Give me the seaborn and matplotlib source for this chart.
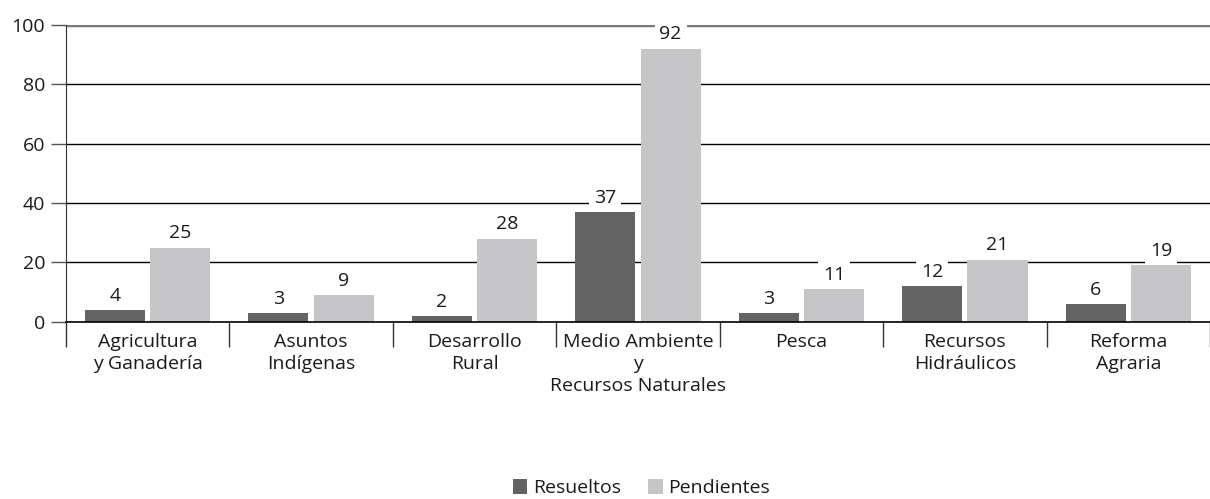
import pandas as pd
import matplotlib
matplotlib.use("Agg")
import matplotlib.pyplot as plt
import seaborn as sns

# --- data ---
categorias = ["Agricultura\ny Ganadería", "Asuntos\nIndígenas", "Desarrollo\nRural",
              "Medio Ambiente\ny\nRecursos Naturales", "Pesca", "Recursos\nHidráulicos",
              "Reforma\nAgraria"]
resueltos = [4, 3, 2, 37, 3, 12, 6]
pendientes = [25, 9, 28, 92, 11, 21, 19]
series = ["Resueltos", "Pendientes"]

df = pd.DataFrame({
    "categoria": categorias * 2,
    "estado": [series[0]] * len(categorias) + [series[1]] * len(categorias),
    "valor": resueltos + pendientes,
})

sns.set_style("white")
plt.rcParams["font.family"] = ["Open Sans", "DejaVu Sans"]
plt.rcParams["text.color"] = "#1a1a1a"
fs = 14

fig = plt.figure(figsize=(12.1, 4.99), dpi=100)
ax = fig.add_axes([0.0545, 0.355, 0.9455, 0.595])

# grid lines behind the bars
for v in [20, 40, 60, 80]:
    ax.axhline(v, color="black", lw=1, zorder=0)
ax.axhline(100, color="#7a7a7a", lw=2.5, zorder=0)

sns.barplot(data=df, x="categoria", y="valor", hue="estado",
            palette=["#646464", "#c6c6c8"], width=0.8, gap=0.08,
            saturation=1, linewidth=0, ax=ax, zorder=2, legend=True)

for cont in ax.containers:
    for bar in cont:
        h = bar.get_height()
        ax.text(bar.get_x() + bar.get_width() / 2, h + 1.8, f"{int(h)}",
                ha="center", va="bottom", fontsize=fs, zorder=4,
                bbox=dict(facecolor="white", edgecolor="none", pad=3.5))

ax.set_ylim(0, 100)
ax.set_xlim(-0.5, len(categorias) - 0.5)
ax.set_yticks([0, 20, 40, 60, 80, 100])
ax.set_xlabel("")
ax.set_ylabel("")

ax.tick_params(axis="y", direction="out", length=11, width=1, color="#555555",
               labelsize=fs, pad=4, left=True, labelcolor="#1a1a1a")
ax.tick_params(axis="x", which="major", length=0, labelsize=fs, pad=8,
               labelcolor="#1a1a1a")
ax.set_xticks([i + 0.5 for i in range(-1, len(categorias))], minor=True)
ax.tick_params(axis="x", which="minor", direction="out", length=18, width=1,
               color="#333333", bottom=True)
for lbl in ax.get_xticklabels():
    lbl.set_linespacing(1.28)

for s in ["top", "right"]:
    ax.spines[s].set_visible(False)
ax.spines["left"].set_color("#333333")
ax.spines["bottom"].set_color("black")
ax.spines["bottom"].set_linewidth(1.2)

leg = ax.legend(loc="lower center", bbox_to_anchor=(0.503, -0.65), ncol=2,
                frameon=False, fontsize=fs, handlelength=0.75, handleheight=0.75,
                handletextpad=0.3, columnspacing=1.4)

fig.savefig("out.png", dpi=100)
